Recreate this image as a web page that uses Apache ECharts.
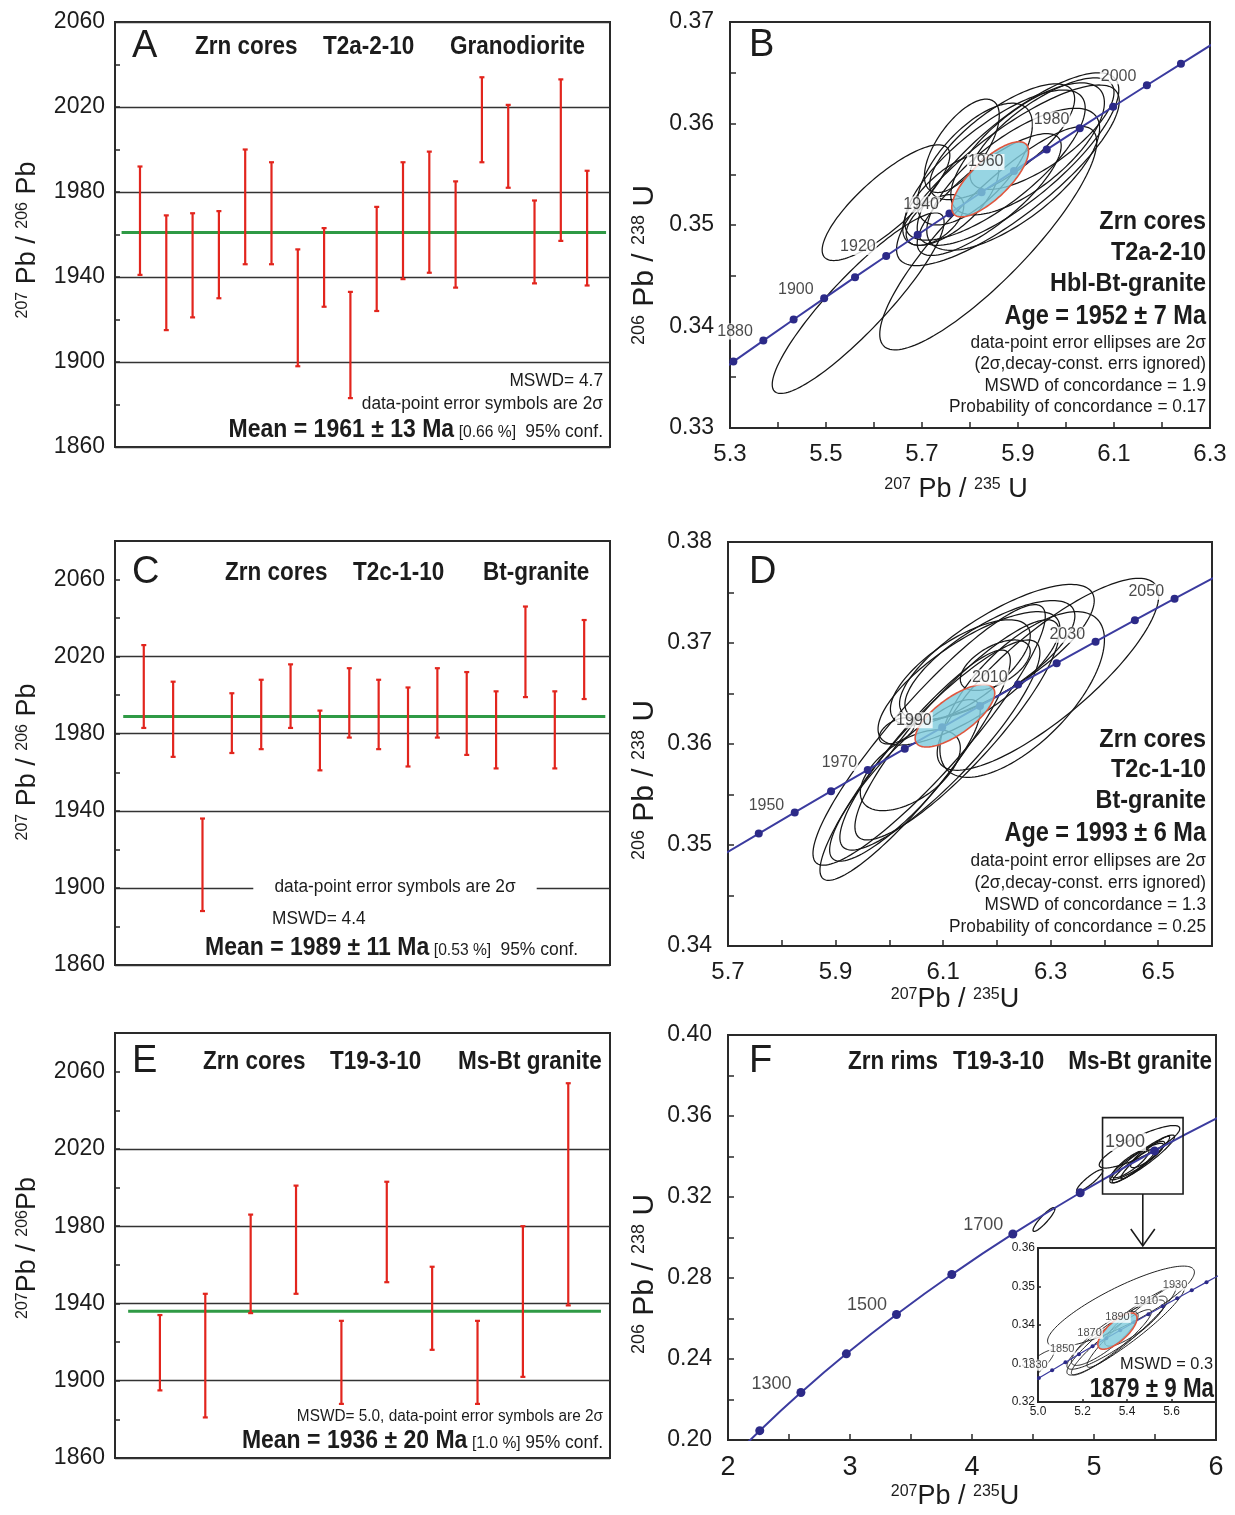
<!DOCTYPE html>
<html>
<head>
<meta charset="utf-8">
<title>Zircon U–Pb ages</title>
<script src="https://cdn.jsdelivr.net/npm/echarts@6/dist/echarts.min.js"></script>
<style>
html,body{margin:0;padding:0;background:#fff;}
#chart{width:1235px;height:1515px;}
</style>
</head>
<body>
<div id="chart"></div>
<script>
// ---------- Weighted-mean 207Pb/206Pb ages (Ma): 2σ upper / lower limits ----------
const upperA = [1992, 1969, 1970, 1971, 2000, 1994, 1953, 1963, 1933, 1973, 1994, 1999, 1985, 2034, 2021, 1976, 2033, 1990];
const lowerA = [1941, 1915, 1921, 1930, 1946, 1946, 1898, 1926, 1883, 1924, 1939, 1942, 1935, 1994, 1982, 1937, 1957, 1936];
const meanA = 1961;

const upperC = [2026, 2007, 1936, 2001, 2008, 2016, 1992, 2014, 2008, 2004, 2014, 2012, 2002, 2046, 2002, 2039];
const lowerC = [1983, 1968, 1888, 1970, 1972, 1983, 1961, 1978, 1972, 1963, 1978, 1969, 1962, 1999, 1962, 1998];
const meanC = 1989;

const upperE = [1934, 1945, 1986, 2001, 1931, 2003, 1959, 1931, 1980, 2054];
const lowerE = [1895, 1881, 1935, 1945, 1888, 1951, 1916, 1888, 1902, 1939];
const meanE = 1936;

const ageTickLabels = [1860, 1900, 1940, 1980, 2020, 2060];

// ---------- Concordia data: [207Pb/235U, 206Pb/238U, 2σ(x), 2σ(y), rho] ----------
const ellipsesB = [
  [5.567, 0.3423, 0.179, 0.0089, 0.90],
  [5.838, 0.3487, 0.226, 0.0110, 0.86],
  [5.625, 0.3522, 0.133, 0.0057, 0.82],
  [5.879, 0.3549, 0.232, 0.0089, 0.82],
  [5.852, 0.3559, 0.188, 0.0074, 0.76],
  [5.783, 0.3578, 0.078, 0.0046, 0.65],
  [5.867, 0.3582, 0.151, 0.0057, 0.74],
  [5.900, 0.3565, 0.210, 0.0085, 0.80],
  [5.727, 0.3505, 0.060, 0.0025, 0.55],
  [5.920, 0.3575, 0.160, 0.0065, 0.70],
  [5.810, 0.3560, 0.120, 0.0060, 0.65],
  [5.890, 0.3545, 0.180, 0.0070, 0.72],
  [5.950, 0.3590, 0.150, 0.0055, 0.74],
  [5.840, 0.3530, 0.150, 0.0060, 0.80],
  [5.760, 0.3525, 0.100, 0.0045, 0.65]
];
const concordiaAgeB = [[5.842, 0.3545, 0.080, 0.0037, 0.75]];

const ellipsesD = [
  [6.295, 0.3669, 0.206, 0.0095, 0.82],
  [6.247, 0.3649, 0.153, 0.0082, 0.66],
  [6.200, 0.3691, 0.181, 0.0067, 0.76],
  [6.074, 0.3609, 0.216, 0.0129, 0.91],
  [6.048, 0.3579, 0.177, 0.0114, 0.91],
  [6.029, 0.3564, 0.140, 0.0080, 0.86],
  [6.094, 0.3599, 0.186, 0.0104, 0.88],
  [6.126, 0.3614, 0.190, 0.0109, 0.88],
  [6.039, 0.3574, 0.093, 0.0040, 0.55],
  [6.148, 0.3665, 0.169, 0.0066, 0.76],
  [6.132, 0.3671, 0.130, 0.0052, 0.70],
  [6.187, 0.3683, 0.158, 0.0059, 0.74],
  [6.014, 0.3613, 0.033, 0.0013, 0.50],
  [6.197, 0.3678, 0.065, 0.0025, 0.55]
];
const concordiaAgeD = [[6.122, 0.3628, 0.074, 0.0031, 0.72]];

const ellipsesF = [
  [5.373, 0.3448, 0.330, 0.0105, 0.85],
  [5.395, 0.3388, 0.265, 0.0118, 0.93],
  [5.350, 0.3375, 0.220, 0.0090, 0.90],
  [5.300, 0.3365, 0.150, 0.0070, 0.85],
  [5.440, 0.3410, 0.140, 0.0065, 0.85],
  [5.420, 0.3395, 0.200, 0.0105, 0.95],
  [5.330, 0.3355, 0.180, 0.0085, 0.93],
  [4.590, 0.3089, 0.090, 0.0059, 0.90],
  [4.965, 0.3281, 0.107, 0.0054, 0.90]
];
const concordiaAgeF = [[5.357, 0.3384, 0.088, 0.0047, 0.72]];
const zoomWindowF = [5.07, 5.73, 0.3215, 0.3592];

// Concordia age marks (Ma) and the ones that carry a label
const marksB = [1860, 1870, 1880, 1890, 1900, 1910, 1920, 1930, 1940, 1950, 1960, 1970, 1980, 1990, 2000, 2010, 2020, 2030, 2040];
const labelsB = [1880, 1900, 1920, 1940, 1960, 1980, 2000];
const marksD = [1920, 1930, 1940, 1950, 1960, 1970, 1980, 1990, 2000, 2010, 2020, 2030, 2040, 2050, 2060, 2070];
const labelsD = [1950, 1970, 1990, 2010, 2030, 2050];
const marksF = [1100, 1200, 1300, 1400, 1500, 1600, 1700, 1800, 1900, 2000];
const labelsF = [1300, 1500, 1700, 1900];
const marksInset = [1810, 1820, 1830, 1840, 1850, 1860, 1870, 1880, 1890, 1900, 1910, 1920, 1930, 1940, 1950, 1960];
const labelsInset = [1830, 1850, 1870, 1890, 1910, 1930];

// U decay constants (1/yr); concordia ratios for an age in Ma
const LAMBDA_238 = 1.55125e-10;
const LAMBDA_235 = 9.8485e-10;
const pb206u238 = t => Math.expm1(LAMBDA_238 * t * 1e6);
const pb207u235 = t => Math.expm1(LAMBDA_235 * t * 1e6);

// ---------- styling ----------
const FN = "'Liberation Sans Narrow','Arial Narrow','Liberation Sans',Arial,sans-serif";
const FW = "'Liberation Sans',Arial,sans-serif";
const INK = '#1c1c1c';
const RED = '#e2251d';
const GREEN = '#2f9a45';
const CONC = '#3b3b9f';
const DOT = '#2c2a88';
const FRAME = '#2a2a2a';
const CLEAR = 'rgba(0,0,0,0)';

const chart = echarts.init(document.getElementById('chart'), null, {renderer: 'canvas', width: 1235, height: 1515});

function frame(left, top, width, height) {
  return {left, top, width, height, show: true, borderColor: FRAME, borderWidth: 2, backgroundColor: '#fff', containLabel: false};
}

function valueAxis(g, min, max, interval, formatter, o = {}) {
  return {
    type: 'value', gridIndex: g, min, max, interval,
    axisLine: {show: false},
    axisTick: {show: true, inside: true, length: o.tickLen || 6, lineStyle: {color: FRAME, width: 1.5}},
    axisLabel: {show: true, formatter, fontFamily: FN, fontSize: o.fs || 23, color: INK, margin: o.margin || 14},
    splitLine: o.split ? {show: true, lineStyle: {color: o.split, width: 1.4}} : {show: false}
  };
}
const hiddenAxis = (g, min, max) => ({type: 'value', gridIndex: g, min, max, show: false});

const ageLabel = v => (ageTickLabels.includes(v) ? String(v) : '');
const oddTenth = v => (Math.round(v * 10) % 2 === 1 ? v.toFixed(1) : '');
const hundredth = v => (Math.round(v * 1000) % 10 === 0 ? v.toFixed(2) : '');

// grid lines only at the labelled ages (none at 2060 on the taller panels)
const splitA = ['#333', CLEAR];
const splitCE = ['#333', CLEAR, '#333', CLEAR, '#333', CLEAR, '#333', CLEAR, '#333', CLEAR, CLEAR, CLEAR];

function errorBars(g, upper, lower) {
  return {
    type: 'custom', xAxisIndex: g, yAxisIndex: g, z: 4, silent: true,
    data: upper.map((u, i) => [i + 1, lower[i], u]),
    encode: {x: 0, y: [1, 2]},
    renderItem(params, api) {
      const x = api.value(0);
      const a = api.coord([x, api.value(1)]);
      const b = api.coord([x, api.value(2)]);
      const cap = 2.5, st = {stroke: RED, lineWidth: 2.2};
      return {type: 'group', children: [
        {type: 'line', shape: {x1: a[0], y1: a[1], x2: b[0], y2: b[1]}, style: st},
        {type: 'line', shape: {x1: a[0] - cap, y1: a[1], x2: a[0] + cap, y2: a[1]}, style: st},
        {type: 'line', shape: {x1: b[0] - cap, y1: b[1], x2: b[0] + cap, y2: b[1]}, style: st}
      ]};
    }
  };
}

function meanLine(g, n, mean) {
  return {type: 'line', xAxisIndex: g, yAxisIndex: g, z: 3, silent: true,
    data: [[0.3, mean], [n + 0.72, mean]], symbol: 'none',
    lineStyle: {color: GREEN, width: 3}};
}

function ellipseSeries(g, list, style, z) {
  return {
    type: 'custom', xAxisIndex: g, yAxisIndex: g, z, silent: true,
    data: list, encode: {x: 0, y: 1},
    renderItem(params, api) {
      const cx = api.value(0), cy = api.value(1), sx = api.value(2), sy = api.value(3), r = api.value(4);
      const k = Math.sqrt(1 - r * r), pts = [];
      for (let i = 0; i < 144; i++) {
        const t = i / 144 * Math.PI * 2;
        pts.push(api.coord([cx + sx * Math.cos(t), cy + sy * (r * Math.cos(t) + k * Math.sin(t))]));
      }
      const cs = params.coordSys;
      return {type: 'polygon', shape: {points: pts}, style: Object.assign({}, style),
        clipPath: {type: 'rect', shape: {x: cs.x, y: cs.y, width: cs.width, height: cs.height}}};
    }
  };
}
const blackEllipse = {fill: 'none', stroke: '#161616', lineWidth: 1.25};
const ageEllipse = {fill: 'rgba(128,204,221,0.82)', stroke: '#e0573f', lineWidth: 1.6};

function concordiaLine(g, marks, dot, width, smooth) {
  return {type: 'line', xAxisIndex: g, yAxisIndex: g, z: 3, silent: true, clip: true,
    data: marks.map(t => [pb207u235(t), pb206u238(t)]),
    smooth: smooth || false,
    symbol: 'circle', symbolSize: dot, showSymbol: true,
    itemStyle: {color: DOT}, lineStyle: {color: CONC, width}};
}
function concordiaLabels(g, ages, size, dist, up) {
  return {type: 'scatter', xAxisIndex: g, yAxisIndex: g, z: 6, silent: true, clip: true,
    data: ages.map(t => [pb207u235(t), pb206u238(t), t]),
    symbolSize: 1, itemStyle: {color: CLEAR},
    label: {show: true, position: 'left', distance: dist, offset: [0, -up],
      formatter: p => String(p.value[2]), fontFamily: FN, fontSize: size, color: INK,
      backgroundColor: '#fff', padding: [0, 1, 0, 1]}};
}

// outline of the enlarged window plus the arrow pointing to the inset
const windowSeries = {
  type: 'custom', xAxisIndex: 5, yAxisIndex: 5, z: 5, silent: true,
  data: [zoomWindowF], encode: {x: [0, 1], y: [2, 3]},
  renderItem(params, api) {
    const tl = api.coord([api.value(0), api.value(3)]);
    const br = api.coord([api.value(1), api.value(2)]);
    const mid = (tl[0] + br[0]) / 2, y0 = br[1], y1 = br[1] + 52;
    const st = {stroke: INK, lineWidth: 1.6, fill: 'none'};
    return {type: 'group', children: [
      {type: 'rect', shape: {x: tl[0], y: tl[1], width: br[0] - tl[0], height: br[1] - tl[1]}, style: st},
      {type: 'line', shape: {x1: mid, y1: y0, x2: mid, y2: y1}, style: st},
      {type: 'polyline', shape: {points: [[mid - 12, y1 - 17], [mid, y1], [mid + 12, y1 - 17]]}, style: st}
    ]};
  }
};

// ---------- text ----------
function text(str, x, y, size, o = {}) {
  return {type: 'text', x, y, z: 100, silent: true, rotation: o.rot || 0, scaleX: o.sx || 1,
    style: {text: str, fill: INK, fontSize: size, fontFamily: o.family || FN,
      fontWeight: o.bold ? 'bold' : 'normal', align: o.align || 'left', verticalAlign: 'middle',
      rich: o.rich, backgroundColor: o.bg, padding: o.pad}};
}
const bold = (str, x, y, size, o = {}) => text(str, x, y, size, Object.assign({bold: true, sx: 0.9}, o));
const small = (str, x, y, size, o = {}) => text(str, x, y, size, Object.assign({sx: 0.96}, o));

const meanRich = {
  b: {fontSize: 25, fontWeight: 'bold', fontFamily: FN, fill: INK},
  s: {fontSize: 17, fontFamily: FN, fill: INK, verticalAlign: 'bottom', padding: [0, 0, 2, 0]},
  n: {fontSize: 19, fontFamily: FN, fill: INK, verticalAlign: 'bottom', padding: [0, 0, 1, 0]}
};
const titleRich = {
  p: {fontSize: 27, fontFamily: FN, fill: INK},
  s: {fontSize: 16, fontFamily: FN, fill: INK, verticalAlign: 'top'}
};
const bigTitle = {
  p: {fontSize: 30, fontFamily: FN, fill: INK},
  s: {fontSize: 18, fontFamily: FN, fill: INK, verticalAlign: 'top'}
};

const graphics = [
  // A
  text('A', 132, 47, 38, {family: FW}),
  bold('Zrn cores', 195, 47, 25),
  bold('T2a-2-10', 323, 47, 25),
  bold('Granodiorite', 450, 47, 25),
  small('MSWD= 4.7', 603, 381, 18, {align: 'right'}),
  small('data-point error symbols are 2σ', 603, 404, 18, {align: 'right'}),
  text('{b|Mean = 1961 ± 13 Ma} {s|[0.66 %]}  {n|95% conf.}', 603, 430, 18, {align: 'right', rich: meanRich, sx: 0.92}),
  text('{s|207} {p|Pb / }{s|206} {p|Pb}', 28, 240, 27, {align: 'center', rot: Math.PI / 2, rich: titleRich}),
  // C
  text('C', 132, 573, 38, {family: FW}),
  bold('Zrn cores', 225, 573, 25),
  bold('T2c-1-10', 353, 573, 25),
  bold('Bt-granite', 483, 573, 25),
  small('data-point error symbols are 2σ', 395, 887, 18, {align: 'center', bg: '#fff', pad: [2, 22]}),
  small('MSWD= 4.4', 272, 919, 18),
  text('{b|Mean = 1989 ± 11 Ma} {s|[0.53 %]}  {n|95% conf.}', 205, 948, 18, {rich: meanRich, sx: 0.92}),
  text('{s|207} {p|Pb / }{s|206} {p|Pb}', 28, 762, 27, {align: 'center', rot: Math.PI / 2, rich: titleRich}),
  // E
  text('E', 132, 1062, 38, {family: FW}),
  bold('Zrn cores', 203, 1062, 25),
  bold('T19-3-10', 330, 1062, 25),
  bold('Ms-Bt granite', 458, 1062, 25),
  small('MSWD= 5.0, data-point error symbols are 2σ', 603, 1417, 16, {align: 'right'}),
  text('{b|Mean = 1936 ± 20 Ma} {s|[1.0 %]} {n|95% conf.}', 603, 1441, 18, {align: 'right', rich: meanRich, sx: 0.92}),
  text('{s|207}{p|Pb / }{s|206}{p|Pb}', 28, 1248, 27, {align: 'center', rot: Math.PI / 2, rich: titleRich}),
  // B
  text('B', 749, 46, 38, {family: FW}),
  bold('Zrn cores', 1206, 222, 26, {align: 'right'}),
  bold('T2a-2-10', 1206, 253, 26, {align: 'right'}),
  bold('Hbl-Bt-granite', 1206, 284, 26, {align: 'right'}),
  bold('Age = 1952 ± 7 Ma', 1206, 317, 27, {align: 'right', sx: 0.87}),
  small('data-point error ellipses are 2σ', 1206, 343, 18, {align: 'right'}),
  small('(2σ,decay-const. errs ignored)', 1206, 364, 18, {align: 'right'}),
  small('MSWD of concordance = 1.9', 1206, 386, 18, {align: 'right'}),
  small('Probability of concordance = 0.17', 1206, 407, 18, {align: 'right'}),
  text('{s|206} {p|Pb / }{s|238} {p|U}', 645, 265, 30, {align: 'center', rot: Math.PI / 2, rich: bigTitle}),
  text('{s|207} {p|Pb / }{s|235} {p|U}', 956, 490, 27, {align: 'center', rich: titleRich}),
  // D
  text('D', 749, 573, 38, {family: FW}),
  bold('Zrn cores', 1206, 740, 26, {align: 'right'}),
  bold('T2c-1-10', 1206, 770, 26, {align: 'right'}),
  bold('Bt-granite', 1206, 801, 26, {align: 'right'}),
  bold('Age = 1993 ± 6 Ma', 1206, 834, 27, {align: 'right', sx: 0.87}),
  small('data-point error ellipses are 2σ', 1206, 861, 18, {align: 'right'}),
  small('(2σ,decay-const. errs ignored)', 1206, 883, 18, {align: 'right'}),
  small('MSWD of concordance = 1.3', 1206, 905, 18, {align: 'right'}),
  small('Probability of concordance = 0.25', 1206, 927, 18, {align: 'right'}),
  text('{s|206} {p|Pb / }{s|238} {p|U}', 645, 780, 30, {align: 'center', rot: Math.PI / 2, rich: bigTitle}),
  text('{s|207}{p|Pb / }{s|235}{p|U}', 955, 1000, 27, {align: 'center', rich: titleRich}),
  // F
  text('F', 749, 1062, 38, {family: FW}),
  bold('Zrn rims', 848, 1062, 25),
  bold('T19-3-10', 953, 1062, 25),
  bold('Ms-Bt granite', 1212, 1062, 25, {align: 'right'}),
  small('MSWD = 0.3', 1213, 1364, 17, {align: 'right'}),
  bold('1879 ± 9 Ma', 1214, 1389, 28, {align: 'right', sx: 0.8}),
  text('{s|206} {p|Pb / }{s|238} {p|U}', 645, 1274, 30, {align: 'center', rot: Math.PI / 2, rich: bigTitle}),
  text('{s|207}{p|Pb / }{s|235}{p|U}', 955, 1497, 27, {align: 'center', rich: titleRich})
];

const option = {
  animation: false,
  backgroundColor: '#fff',
  grid: [
    frame(115, 22, 495, 425),    // A
    frame(730, 22, 480, 406),    // B
    frame(115, 541, 495, 424),   // C
    frame(728, 542, 484, 404),   // D
    frame(115, 1033, 495, 425),  // E
    frame(728, 1035, 488, 405),  // F
    frame(1038, 1248, 178, 154)  // F inset
  ],
  xAxis: [
    hiddenAxis(0, 0.05, 18.87),
    valueAxis(1, 5.3, 6.3, 0.1, oddTenth, {fs: 24}),
    hiddenAxis(2, 0.02, 16.88),
    valueAxis(3, 5.7, 6.6, 0.1, oddTenth, {fs: 24}),
    hiddenAxis(4, 0.01, 10.92),
    valueAxis(5, 2, 6, 0.5, v => (Number.isInteger(v) ? String(v) : ''), {fs: 27}),
    valueAxis(6, 5.0, 5.8, 0.2, v => (v < 5.79 ? v.toFixed(1) : ''), {fs: 12, margin: 4, tickLen: 3})
  ],
  yAxis: [
    valueAxis(0, 1860, 2060, 20, ageLabel, {margin: 10, split: splitA, tickLen: 5}),
    valueAxis(1, 0.33, 0.37, 0.005, hundredth, {margin: 16}),
    valueAxis(2, 1860, 2080, 20, ageLabel, {margin: 10, split: splitCE, tickLen: 5}),
    valueAxis(3, 0.34, 0.38, 0.005, hundredth, {margin: 16}),
    valueAxis(4, 1860, 2080, 20, ageLabel, {margin: 10, split: splitCE, tickLen: 5}),
    valueAxis(5, 0.2, 0.4, 0.02, v => (Math.round(v * 100) % 4 === 0 ? v.toFixed(2) : ''), {margin: 16}),
    valueAxis(6, 0.32, 0.36, 0.01, v => v.toFixed(2), {fs: 12, margin: 3, tickLen: 3})
  ],
  series: [
    // weighted means
    meanLine(0, upperA.length, meanA), errorBars(0, upperA, lowerA),
    meanLine(2, upperC.length, meanC), errorBars(2, upperC, lowerC),
    meanLine(4, upperE.length, meanE), errorBars(4, upperE, lowerE),
    // concordia B
    ellipseSeries(1, ellipsesB, blackEllipse, 2),
    concordiaLine(1, marksB, 8, 2),
    ellipseSeries(1, concordiaAgeB, ageEllipse, 4),
    concordiaLabels(1, labelsB, 16, 9, 9),
    // concordia D
    ellipseSeries(3, ellipsesD, blackEllipse, 2),
    concordiaLine(3, marksD, 8, 2),
    ellipseSeries(3, concordiaAgeD, ageEllipse, 4),
    concordiaLabels(3, labelsD, 16, 9, 7),
    // concordia F
    ellipseSeries(5, ellipsesF, blackEllipse, 2),
    concordiaLine(5, marksF, 9, 2, 0.5),
    concordiaLabels(5, labelsF, 18, 8, 9),
    windowSeries,
    // F inset
    ellipseSeries(6, ellipsesF, {fill: 'none', stroke: '#222', lineWidth: 1}, 2),
    concordiaLine(6, marksInset, 4, 1.2),
    ellipseSeries(6, concordiaAgeF, ageEllipse, 4),
    concordiaLabels(6, labelsInset, 11, 3, 5)
  ],
  graphic: graphics
};

chart.setOption(option);
</script>
</body>
</html>
